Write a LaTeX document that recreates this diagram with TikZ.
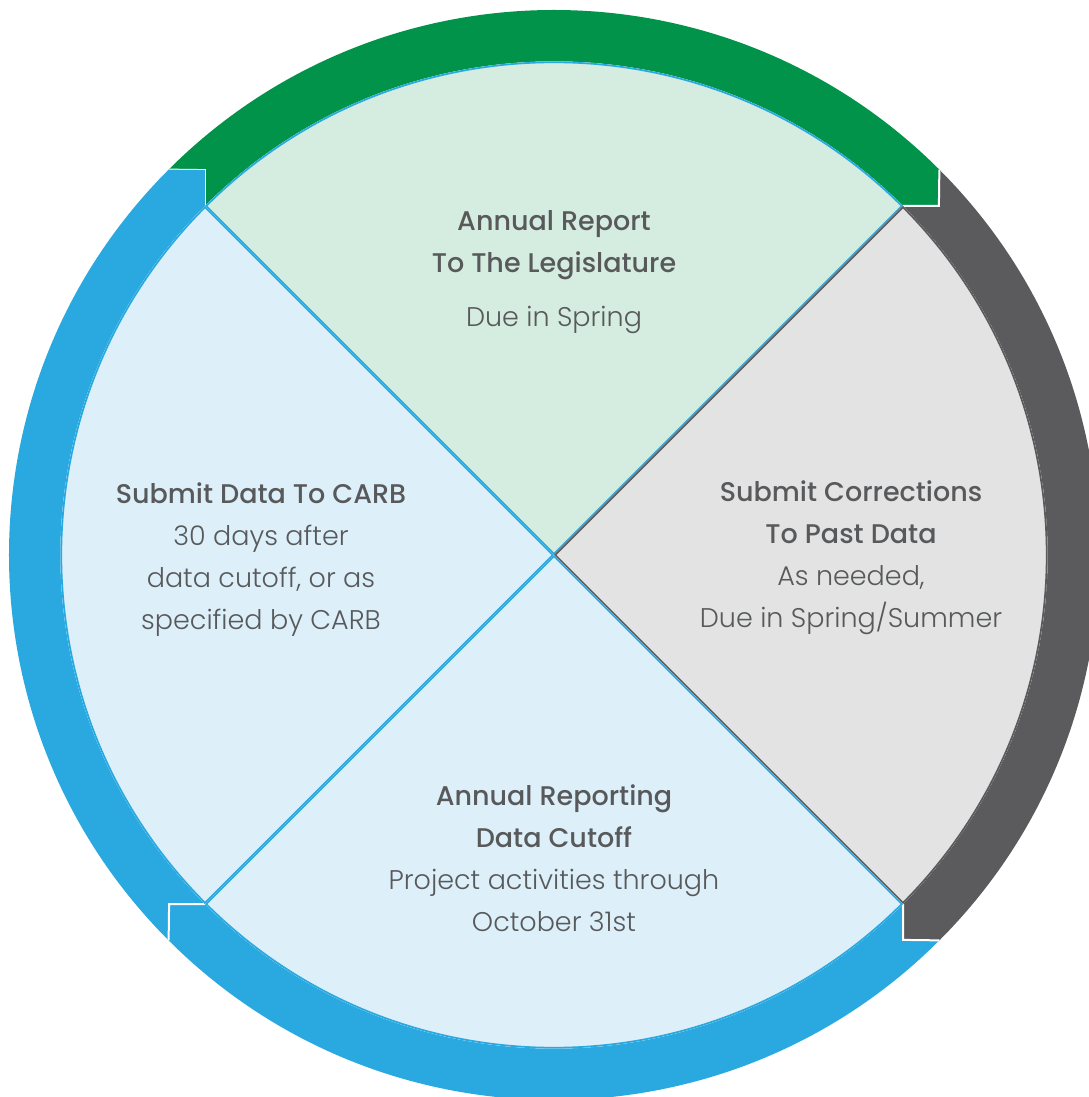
\documentclass[tikz,border=0pt]{standalone}
\usepackage{fontspec}
\setmainfont{Poppins}[UprightFont=* Light, BoldFont=* Medium]
\usetikzlibrary{calc}

\definecolor{ringgreen}{HTML}{02934A}
\definecolor{ringblue}{HTML}{29A9E0}
\definecolor{ringgray}{HTML}{5B5B5D}
\definecolor{wedgegreen}{HTML}{D5ECE0}
\definecolor{wedgeblue}{HTML}{DDF0FA}
\definecolor{wedgegray}{HTML}{E3E3E3}
\definecolor{txtgray}{HTML}{58595B}

\tikzset{
  notch/.style={draw=white, line width=2pt},
  steptext/.style={text=txtgray, align=center, font=\fontsize{27}{42}\selectfont}
}

\def\Ro{545}
\def\Ri{493.6}
\def\Rn{519.6}

\begin{document}
\begin{tikzpicture}[x=1pt,y=1pt]
\useasboundingbox (-554,-542) rectangle (534,555);

%outer ring
\foreach \a/\b/\col in {135/45/ringgreen, 45/-45/ringgray, -45/-135/ringblue, -135/-225/ringblue}{
  \fill[\col] (\a:\Ro) -- (\a-2.8:\Rn) -- (\a:\Ri) arc[start angle=\a, end angle=\b, radius=\Ri]
    -- (\b-2.8:\Rn) -- (\b:\Ro) arc[start angle=\b, end angle=\a, radius=\Ro] -- cycle;
  \draw[notch] (\a:\Ri) -- (\a-2.8:\Rn) -- (\a:\Ro);
}

%wedges
\foreach \a/\b/\fil/\edge in {135/45/wedgegreen/ringblue, 45/-45/wedgegray/ringgray, -45/-135/wedgeblue/ringblue, -135/-225/wedgeblue/ringblue}{
  \begin{scope}
    \clip (0,0) -- (\a:\Ri) arc[start angle=\a, end angle=\b, radius=\Ri] -- cycle;
    \filldraw[fill=\fil, draw=\edge, line width=3.5pt] (0,0) -- (\a:\Ri) arc[start angle=\a, end angle=\b, radius=\Ri] -- cycle;
  \end{scope}
}

\node[steptext] (report) at (0,283) {\textbf{Annual Report}\\\textbf{To The Legislature}\\[12pt]Due in Spring};
\node[steptext] (corrections) at (297,-3) {\textbf{Submit Corrections}\\\textbf{To Past Data}\\As needed,\\Due in Spring/Summer};
\node[steptext] (cutoff) at (0,-303) {\textbf{Annual Reporting}\\\textbf{Data Cutoff}\\Project activities through\\October 31st};
\node[steptext] (submit) at (-293,-5) {\textbf{Submit Data To CARB}\\30 days after\\data cutoff, or as\\specified by CARB};

\end{tikzpicture}
\end{document}
